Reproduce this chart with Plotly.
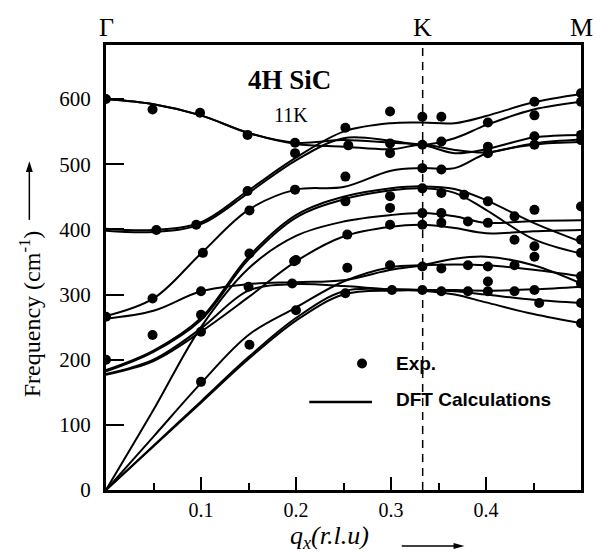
import plotly.graph_objects as go

# q_x sampling points (r.l.u) along Gamma-K-M
q = [0, 0.05, 0.1, 0.15, 0.2, 0.25, 0.3, 0.333, 0.367, 0.4, 0.45, 0.5]

# DFT branches (cm^-1)
b1 = [600, 592, 575, 548, 531, 527, 523, 530, 522, 518, 532, 538]
b2 = [401, 399, 411, 460, 510, 550, 563, 564, 563, 574, 595, 608]
b3 = [398, 396, 408, 456, 506, 540, 536, 530, 540, 560, 584, 596]
b4 = [600, 592, 575, 548, 533, 537, 533, 530, 517, 523, 541, 545]
b5 = [267, 294, 363, 430, 461, 465, 490, 494, 494, 516, 530, 534]
b6 = [263, 275, 305, 316, 319, 322, 338, 345, 355, 358, 345, 317]
b7 = [178, 200, 248, 306, 316, 313, 308, 307, 307, 306, 308, 312]
b8 = [184, 214, 264, 358, 422, 450, 463, 466, 462, 445, 410, 381]
b9 = [182, 212, 261, 354, 418, 446, 460, 463, 456, 430, 385, 363]
b10 = [0, 123, 250, 340, 390, 412, 422, 425, 420, 410, 413, 414]
b11 = [177, 198, 243, 296, 351, 389, 404, 407, 402, 394, 397, 399]
b12 = [0, 82, 164, 238, 280, 320, 342, 345, 346, 345, 338, 328]
b13 = [0, 68, 136, 204, 264, 305, 308, 307, 305, 300, 292, 287]
b14 = [0, 67, 134, 201, 260, 300, 306, 306, 300, 288, 270, 256]
branches = [b1, b2, b3, b4, b5, b6, b7, b8, b9, b10, b11, b12, b13, b14]

# Experimental points
exp_q = [0, 0.049, 0.099, 0.149, 0.199, 0.199,
         0.053, 0.095, 0.149, 0.151, 0.102, 0.151, 0.199,
         0.252, 0.299, 0.333, 0.353, 0.402, 0.451, 0.451, 0.5, 0.5,
         0.255, 0.299, 0.299, 0.333, 0.353, 0.402, 0.402, 0.451, 0.451, 0.5, 0.5,
         0.252, 0.333, 0.353,
         0.252, 0.299, 0.333, 0.353, 0.377, 0.402, 0.43, 0.451, 0.5,
         0.254, 0.299, 0.299, 0.333, 0.333, 0.353, 0.353, 0.381, 0.402, 0.43, 0.451, 0.451, 0.5, 0.5,
         0.2, 0.254, 0.299, 0.333, 0.353, 0.381, 0.402, 0.43, 0.5,
         0.252, 0.301, 0.333, 0.353, 0.381, 0.402, 0.402, 0.43, 0.451, 0.456, 0.5, 0.5, 0.5,
         0.2, 0.049, 0.1, 0.1, 0.1, 0.1, 0.151, 0.15, 0.196, 0.049, 0, 0, 0.198]
exp_f = [600, 584, 579, 545, 533, 517,
         399, 407, 459, 429, 364, 363, 461,
         556, 581, 573, 573, 564, 596, 575, 609, 596,
         529, 532, 517, 530, 535, 527, 517, 543, 530, 545, 537,
         481, 494, 492,
         443, 451, 463, 456, 453, 443, 420, 430, 435,
         392, 433, 407, 425, 407, 425, 410, 412, 410, 384, 374, 358, 384, 364,
         353, 341, 345, 343, 340, 345, 343, 345, 328,
         302, 307, 307, 305, 305, 305, 320, 305, 307, 287, 287, 256, 317,
         276, 238, 305, 269, 243, 166, 223, 312, 317, 294, 266, 200, 351]

K_pos = 1 / 3
y_max = 683

SERIF = "Liberation Serif"
SANS = "Liberation Sans"

fig = go.Figure()
for b in branches:
    fig.add_trace(go.Scatter(x=q, y=b, mode="lines",
                             line=dict(color="black", width=2, shape="spline", smoothing=1.0),
                             showlegend=False, hoverinfo="skip"))

fig.add_trace(go.Scatter(x=exp_q, y=exp_f, mode="markers",
                         marker=dict(color="black", size=10),
                         showlegend=False))

# K dashed line
fig.add_shape(type="line", x0=K_pos, x1=K_pos, y0=0, y1=y_max, xref="x", yref="y",
              line=dict(color="black", width=1.5, dash="8px,6px"))

# Legend (manual)
fig.add_shape(type="circle", xref="paper", yref="paper",
              x0=0.5285, x1=0.5495, y0=0.273, y1=0.2955,
              fillcolor="black", line=dict(color="black", width=0))
fig.add_shape(type="line", xref="paper", yref="paper",
              x0=0.428, x1=0.56, y0=0.198, y1=0.198,
              line=dict(color="black", width=2.5))
fig.add_annotation(text="<b>Exp.</b>", xref="paper", yref="paper", x=0.606, y=0.2845,
                   xanchor="left", yanchor="middle", showarrow=False,
                   font=dict(family=SANS, size=19, color="black"))
fig.add_annotation(text="<b>DFT Calculations</b>", xref="paper", yref="paper", x=0.606, y=0.203,
                   xanchor="left", yanchor="middle", showarrow=False,
                   font=dict(family=SANS, size=19, color="black"))

# Titles inside
fig.add_annotation(text="<b>4H SiC</b>", xref="paper", yref="paper", x=0.387, y=0.922,
                   xanchor="center", yanchor="middle", showarrow=False,
                   font=dict(family=SERIF, size=27, color="black"))
fig.add_annotation(text="11K", xref="paper", yref="paper", x=0.39, y=0.843,
                   xanchor="center", yanchor="middle", showarrow=False,
                   font=dict(family=SERIF, size=20, color="black"))

# High-symmetry point labels
for lab, xv in [("Γ", 0), ("K", K_pos), ("M", 0.5)]:
    fig.add_annotation(text=lab, xref="x", yref="paper", x=xv, y=1.04,
                       xanchor="center", yanchor="middle", showarrow=False,
                       font=dict(family=SERIF, size=26, color="black"))

# Y axis title with arrow (arrow drawn as shapes)
fig.add_annotation(text="Frequency (cm<sup>-1</sup>)", xref="paper", yref="paper",
                   x=-0.160, y=0.395, textangle=-90, xanchor="center", yanchor="middle",
                   showarrow=False, font=dict(family=SERIF, size=24, color="black"))
fig.add_shape(type="line", xref="paper", yref="paper",
              x0=-0.1614, x1=-0.1614, y0=0.607, y1=0.72,
              line=dict(color="black", width=1.5))
fig.add_shape(type="path", xref="paper", yref="paper",
              path="M -0.1614 0.739 L -0.1687 0.7146 L -0.1541 0.7146 Z",
              fillcolor="black", line=dict(color="black", width=0))

# X axis title with arrow (arrow drawn as shapes)
fig.add_annotation(text="<i>q<sub>x</sub>(r.l.u)</i>", xref="paper", yref="paper",
                   x=0.47, y=-0.105, xanchor="center", yanchor="middle", showarrow=False,
                   font=dict(family=SERIF, size=26, color="black"))
fig.add_shape(type="line", xref="paper", yref="paper",
              x0=0.6226, x1=0.74, y0=-0.1258, y1=-0.1258,
              line=dict(color="black", width=1.5))
fig.add_shape(type="path", xref="paper", yref="paper",
              path="M 0.7547 -0.1258 L 0.7317 -0.1191 L 0.7317 -0.1325 Z",
              fillcolor="black", line=dict(color="black", width=0))

fig.update_layout(
    width=596, height=555,
    margin=dict(l=106, r=13, t=45, b=65),
    paper_bgcolor="white", plot_bgcolor="white",
    showlegend=False,
    xaxis=dict(range=[0, 0.5], tickvals=[0.1, 0.2, 0.3, 0.4],
               ticktext=["0.1", "0.2", "0.3", "0.4"],
               ticks="inside", ticklen=13, tickwidth=1.5, tickcolor="black",
               minor=dict(tickvals=[0.05, 0.15, 0.25, 0.35, 0.45], ticks="inside",
                          ticklen=7, tickwidth=1.5, tickcolor="black"),
               showline=True, linecolor="black", linewidth=3, mirror=True,
               showgrid=False, zeroline=False,
               tickfont=dict(family=SERIF, size=20, color="black")),
    yaxis=dict(range=[0, y_max], tickvals=[0, 100, 200, 300, 400, 500, 600],
               ticks="inside", ticklen=18, tickwidth=1.5, tickcolor="black",
               showline=True, linecolor="black", linewidth=3, mirror=True,
               showgrid=False, zeroline=False, ticklabelstandoff=8,
               tickfont=dict(family=SERIF, size=21, color="black")),
)

fig.write_html("out.html")
